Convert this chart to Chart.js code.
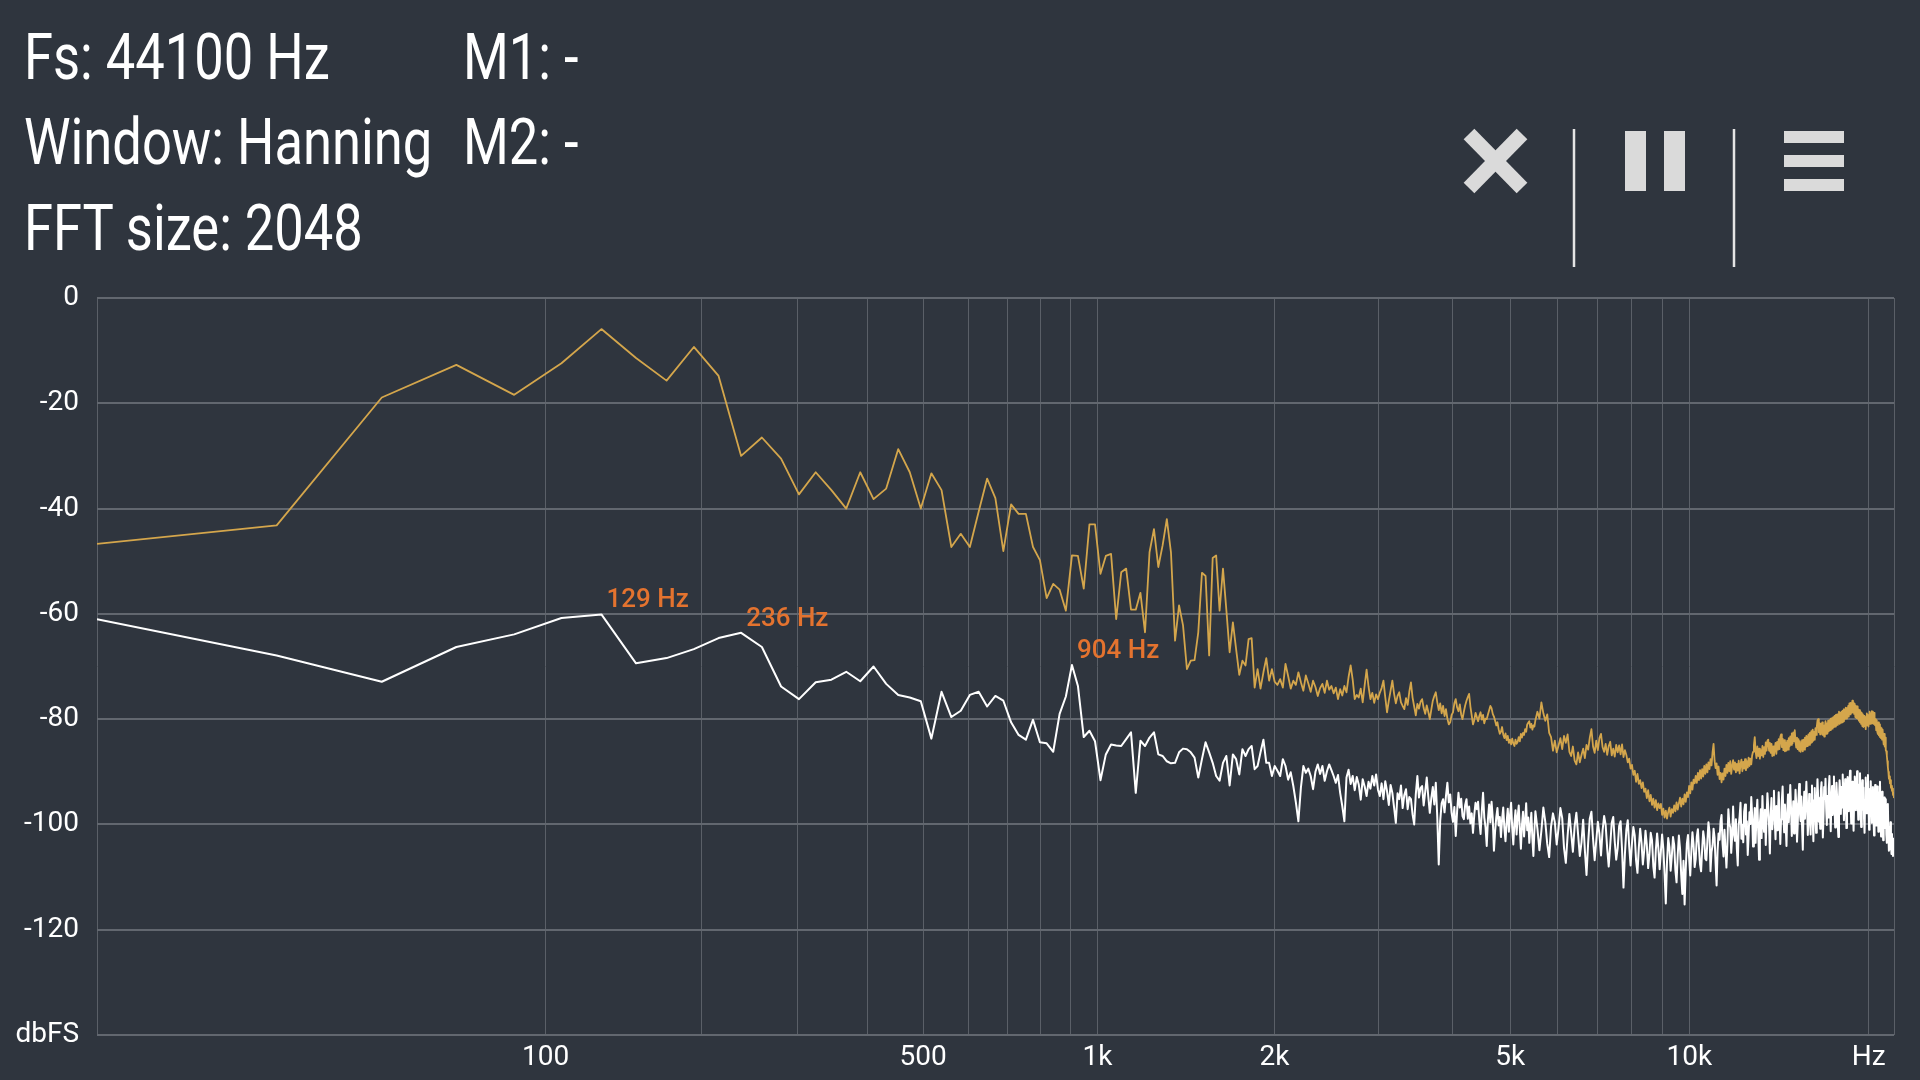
<!DOCTYPE html>
<html>
<head>
<meta charset="utf-8">
<title>Spectrum</title>
<script src="https://cdn.jsdelivr.net/npm/chart.js@4/dist/chart.umd.min.js"></script>
<style>
  html, body { margin: 0; padding: 0; background: #2f353e; overflow: hidden; }
  #wrap { position: relative; width: 1920px; height: 1080px; }
  #spectrum { position: absolute; left: 0; top: 0; }
  .hud { position: absolute; font: 64px/64px Roboto, sans-serif; color: #fff;
         white-space: nowrap; transform: scaleX(0.82); transform-origin: 0 0; }
  #icons { position: absolute; left: 0; top: 0; }
</style>
</head>
<body>
<div id="wrap">
  <canvas id="spectrum" width="1920" height="1080"></canvas>
  <div class="hud" style="left:24px;top:26px">Fs: 44100 Hz</div>
  <div class="hud" style="left:24px;top:111px">Window: Hanning</div>
  <div class="hud" style="left:24px;top:197px">FFT size: 2048</div>
  <div class="hud" style="left:463px;top:26px">M1: -</div>
  <div class="hud" style="left:463px;top:111px">M2: -</div>
  <svg id="icons" width="1920" height="290">
    <g stroke="#dadada" stroke-width="15">
      <line x1="1469" y1="134" x2="1522" y2="188"/>
      <line x1="1522" y1="134" x2="1469" y2="188"/>
    </g>
    <g stroke="#e4e4e4" stroke-width="2.5">
      <line x1="1574" y1="129" x2="1574" y2="267"/>
      <line x1="1734" y1="129" x2="1734" y2="267"/>
    </g>
    <g fill="#dadada">
      <rect x="1625" y="131" width="21" height="60"/>
      <rect x="1664" y="131" width="21" height="60"/>
      <rect x="1784" y="131" width="60" height="12"/>
      <rect x="1784" y="155" width="60" height="12"/>
      <rect x="1784" y="179" width="60" height="12"/>
    </g>
  </svg>
</div>
<script>
// FFT setup
const FS = 44100;
const FFT_SIZE = 2048;
const BIN_HZ = FS / FFT_SIZE;
const FINE_BINS = 256;   // bins 0..255 one by one
const COARSE_STEP = 2;   // then every 2nd bin up to 1024

// axis ticks
const xGridHz = [0, 100, 200, 300, 400, 500, 600, 700, 800, 900, 1000,
  2000, 3000, 4000, 5000, 6000, 7000, 8000, 9000, 10000, 20000, 22050];
const xLabelHz = [100, 500, 1000, 2000, 5000, 10000, 20000];
const xLabelText = ['100', '500', '1k', '2k', '5k', '10k', 'Hz'];
const yTicksDb = [0, -20, -40, -60, -80, -100, -120, -140];

// marked peaks on the live trace (bin numbers)
const markerBins = [6, 11, 42];

// peak hold trace (gold), bins 0..255
const peakHoldFine = [
  -46.7, -43.2, -18.9, -12.7, -18.4, -12.4, -5.9, -11.4, -15.7, -9.3,
  -14.8, -30.0, -26.5, -30.5, -37.3, -33.1, -36.5, -40.0, -33.1, -38.2,
  -36.2, -28.7, -33.1, -40.0, -33.3, -36.5, -47.3, -44.8, -47.3, -40.6,
  -34.3, -38.0, -48.1, -39.2, -41.0, -41.0, -47.3, -49.8, -57.0, -54.3,
  -55.4, -59.4, -48.9, -49.0, -55.2, -43.0, -43.0, -52.4, -49.0, -48.6,
  -61.0, -52.1, -51.4, -59.2, -59.2, -56.0, -63.5, -48.3, -43.9, -51.1,
  -47.0, -42.0, -48.3, -65.1, -58.4, -62.2, -70.5, -68.9, -68.8, -63.5,
  -52.2, -52.8, -67.9, -49.4, -48.9, -59.4, -51.4, -59.2, -67.3, -61.6,
  -66.7, -71.6, -68.9, -69.8, -64.8, -64.6, -74.0, -70.5, -74.2, -71.1,
  -68.4, -72.7, -70.5, -72.9, -73.5, -72.4, -74.0, -69.5, -71.8, -74.2,
  -72.7, -73.5, -71.1, -73.0, -74.6, -71.7, -73.2, -74.8, -72.7, -73.9,
  -75.6, -74.1, -73.3, -75.0, -72.7, -74.4, -73.7, -75.1, -74.0, -76.2,
  -74.3, -75.5, -73.7, -74.9, -72.0, -69.8, -72.5, -76.2, -75.4, -75.9,
  -74.2, -76.8, -73.6, -70.6, -73.8, -76.2, -75.0, -76.9, -75.3, -76.2,
  -75.0, -74.1, -72.7, -75.8, -78.7, -76.5, -74.6, -72.7, -75.2, -77.0,
  -75.6, -74.9, -76.8, -77.5, -78.1, -76.0, -77.3, -74.8, -73.0, -75.9,
  -77.6, -79.3, -77.1, -78.0, -76.7, -76.2, -77.9, -79.0, -77.4, -78.6,
  -80.0, -78.2, -76.5, -75.6, -74.9, -76.8, -78.3, -77.0, -78.9, -77.5,
  -79.4, -78.1, -79.9, -81.0, -80.6, -79.2, -78.7, -77.0, -76.2, -77.8,
  -78.5, -77.2, -79.1, -80.0, -78.6, -77.4, -76.5, -75.8, -75.2, -77.6,
  -79.3, -81.0, -80.2, -78.8, -79.6, -80.4, -79.4, -78.7, -80.1, -79.2,
  -80.8, -79.9, -80.0, -79.1, -78.3, -77.5, -77.9, -79.0, -79.5, -80.3,
  -81.2, -80.6, -81.9, -82.8, -82.4, -81.5, -82.9, -83.6, -82.7, -84.0,
  -83.2, -84.5, -83.9, -84.8, -83.7, -84.6, -85.1, -83.9, -84.7, -84.3,
  -83.4, -84.2, -82.8, -83.5, -82.6, -83.0, -81.9, -82.4, -81.0, -80.7,
  -80.4, -81.6, -80.9, -82.0, -81.2, -81.4
];
// peak hold, bins 256..1024 step 2
const peakHoldCoarse = [
  -80.2, -78.6, -79.9, -76.8, -78.9, -80.3, -79.1, -82.6, -83.4, -86.0,
  -84.1, -86.3, -85.0, -83.6, -85.7, -83.2, -84.5, -82.9, -86.2, -87.0,
  -85.2, -87.9, -88.6, -86.3, -88.2, -86.8, -85.6, -87.4, -84.9, -85.8,
  -83.5, -81.9, -85.2, -86.4, -84.1, -85.9, -83.6, -82.8, -85.3, -86.2,
  -84.7, -86.8, -85.1, -84.3, -86.9, -85.6, -87.1, -84.9, -86.3, -85.0,
  -86.7, -84.8, -87.2, -85.9, -86.8, -88.2, -87.5, -89.4, -88.7, -90.6,
  -89.8, -91.9, -90.4, -92.3, -91.6, -93.1, -92.0, -93.8, -93.2, -95.0,
  -93.5, -95.6, -94.4, -96.3, -95.1, -96.8, -95.4, -97.3, -96.0, -96.9,
  -96.1, -98.2, -97.0, -98.7, -97.4, -98.9, -97.6, -96.8, -98.5, -97.1,
  -97.8, -96.4, -97.5, -95.8, -97.2, -96.0, -94.9, -96.6, -95.1, -96.2,
  -94.3, -95.7, -93.9, -94.8, -92.7, -94.1, -92.0, -93.4, -91.5, -92.2,
  -90.8, -92.1, -90.2, -91.6, -89.7, -91.3, -89.5, -90.9, -88.9, -90.4,
  -88.6, -90.1, -88.2, -89.5, -87.6, -88.8, -86.3, -84.7, -87.9, -89.3,
  -88.4, -90.6, -89.0, -91.4, -90.2, -92.0, -90.3, -91.5, -89.4, -90.8,
  -88.7, -90.2, -88.3, -89.9, -88.0, -90.4, -88.9, -87.8, -89.6, -88.2,
  -90.1, -88.5, -89.8, -87.9, -90.3, -88.6, -87.7, -89.9, -88.1, -89.4,
  -87.6, -89.7, -88.0, -89.2, -87.3, -88.9, -87.5, -88.6, -86.9, -86.2,
  -85.0, -83.4, -86.1, -87.4, -85.2, -87.0, -85.6, -87.5, -85.9, -86.9,
  -85.1, -87.2, -85.3, -86.6, -84.4, -86.0, -84.1, -83.9, -86.0, -84.5,
  -86.4, -84.7, -87.0, -85.2, -86.9, -85.7, -84.5, -86.6, -84.3, -85.8,
  -83.8, -85.7, -83.4, -82.9, -85.3, -83.7, -85.9, -84.0, -86.1, -84.4,
  -86.0, -84.1, -85.8, -83.6, -85.2, -83.3, -84.9, -82.7, -84.6, -82.5,
  -84.2, -82.1, -84.3, -85.4, -83.5, -85.7, -83.8, -86.0, -84.2, -86.2,
  -85.4, -84.0, -86.1, -83.9, -85.8, -83.5, -85.3, -83.2, -85.1, -83.7,
  -82.9, -84.9, -82.6, -84.6, -82.3, -84.4, -82.0, -84.1, -82.4, -83.9,
  -81.7, -83.0, -81.4, -80.3, -80.0, -82.5, -80.7, -82.9, -80.9, -82.6,
  -80.6, -83.0, -81.2, -83.3, -81.5, -80.4, -82.8, -80.8, -82.7, -80.3,
  -82.3, -80.2, -82.1, -79.9, -81.9, -79.8, -81.8, -79.6, -81.5, -79.4,
  -81.4, -79.2, -81.2, -79.1, -81.1, -79.5, -78.6, -80.9, -78.8, -80.7,
  -78.6, -80.6, -78.4, -80.4, -78.1, -80.1, -78.9, -77.8, -79.9, -77.9,
  -79.6, -77.5, -79.5, -77.0, -79.1, -76.9, -78.8, -77.4, -76.5, -78.7,
  -76.8, -79.0, -77.1, -79.6, -77.5, -79.8, -77.6, -79.9, -78.2, -80.3,
  -78.3, -80.6, -78.6, -80.9, -78.8, -81.3, -79.1, -81.5, -79.4, -81.3,
  -79.6, -81.9, -79.7, -78.9, -81.2, -79.2, -81.4, -79.3, -78.6, -80.9,
  -78.9, -80.8, -78.5, -80.7, -78.6, -80.9, -78.8, -80.3, -81.2, -80.0,
  -82.1, -80.2, -82.4, -82.8, -80.6, -83.1, -81.0, -83.4, -81.5, -83.6,
  -81.7, -83.9, -82.0, -83.7, -84.8, -82.8, -85.2, -83.5, -85.9, -86.1,
  -86.9, -88.0, -89.1, -90.0, -91.3, -90.9, -92.2, -91.6, -93.0, -92.7,
  -93.6, -93.2, -94.4, -94.0, -95.0
];

// live trace (white), bins 0..255
const liveFine = [
  -61.0, -67.9, -72.9, -66.3, -63.9, -60.8, -60.1, -69.4, -68.4, -66.7,
  -64.6, -63.6, -66.3, -73.8, -76.2, -73.0, -72.5, -71.0, -72.8, -70.0,
  -73.3, -75.4, -75.9, -76.6, -83.7, -74.8, -79.6, -78.4, -75.4, -74.8,
  -77.6, -75.6, -76.5, -80.6, -83.0, -83.9, -80.1, -84.4, -84.6, -86.2,
  -79.0, -75.7, -69.7, -73.7, -83.4, -82.2, -84.2, -91.6, -86.7, -84.8,
  -85.0, -85.1, -83.8, -82.5, -94.0, -84.1, -85.1, -83.5, -82.5, -86.7,
  -87.0, -88.0, -88.4, -88.3, -86.3, -85.6, -85.7, -86.3, -87.3, -91.1,
  -87.6, -84.4, -86.3, -88.3, -90.8, -91.7, -88.3, -87.0, -92.6, -86.7,
  -87.6, -90.5, -85.7, -87.0, -85.7, -85.1, -89.5, -88.9, -86.3, -83.9,
  -88.3, -88.3, -90.8, -88.9, -89.8, -90.8, -87.6, -88.9, -91.5, -90.1,
  -92.7, -95.8, -99.4, -93.0, -88.9, -90.2, -89.4, -90.8, -93.3, -90.0,
  -88.6, -90.4, -88.9, -91.7, -89.9, -88.6, -89.7, -90.8, -92.1, -90.6,
  -94.0, -96.5, -99.4, -91.1, -89.6, -92.3, -90.8, -93.5, -91.0, -92.4,
  -95.3, -91.4, -92.8, -94.6, -91.9, -93.2, -90.8, -92.6, -90.5, -93.4,
  -94.6, -92.2, -95.2, -91.8, -93.7, -96.3, -92.5, -94.0, -96.8, -99.7,
  -94.1, -95.2, -92.6, -96.9, -94.4, -93.3, -97.1, -94.8, -95.2, -98.1,
  -100.0, -94.3, -90.8, -94.9, -93.1, -92.7, -96.4, -93.8, -91.1, -94.7,
  -97.8, -95.0, -92.9, -96.2, -92.1, -98.6, -107.6, -99.3, -96.0, -95.2,
  -97.7, -94.6, -92.1, -95.8, -94.3, -97.8, -99.5, -96.7, -102.2, -97.5,
  -94.0, -96.8, -95.1, -98.4, -99.0, -96.3, -95.2, -98.9, -96.6, -99.8,
  -97.9, -101.6, -98.2, -95.9, -97.1, -95.7, -99.3, -101.8, -97.4, -94.0,
  -98.7, -100.5, -104.1, -99.0, -96.2, -99.6, -95.7, -98.8, -105.0, -101.3,
  -98.6, -96.9, -100.2, -98.6, -102.4, -99.1, -96.8, -100.7, -103.2, -99.5,
  -97.0, -101.4, -98.3, -95.9, -100.6, -103.8, -99.7, -97.3, -101.9, -98.5,
  -96.4, -100.8, -104.6, -100.1, -97.6, -102.3, -99.2, -96.0, -101.1, -98.7,
  -103.5, -100.4, -97.8, -102.6, -106.0, -101.2
];
// live, bins 256..1024 step 2
const liveCoarse = [
  -97.5, -100.8, -104.9, -101.2, -96.8, -99.5, -103.7, -106.2, -100.4, -97.9,
  -99.6, -103.8, -100.7, -96.9, -98.8, -104.5, -107.3, -102.1, -98.0, -101.6,
  -105.2, -100.3, -97.8, -101.9, -106.0, -103.4, -99.1, -104.8, -109.6, -103.5,
  -98.9, -97.6, -102.7, -106.8, -103.1, -99.5, -101.8, -105.9, -101.2, -98.4,
  -100.1, -104.6, -108.0, -103.9, -99.7, -98.6, -103.2, -106.7, -104.5, -100.3,
  -99.4, -104.8, -112.0, -105.6, -101.0, -99.2, -104.1, -107.8, -103.6, -100.5,
  -102.1, -106.9, -109.2, -104.4, -100.8, -103.5, -107.6, -105.0, -101.2, -103.9,
  -108.3, -105.7, -101.6, -103.0, -107.9, -110.1, -104.8, -101.7, -104.6, -108.5,
  -105.2, -101.9, -104.7, -109.4, -115.0, -107.1, -102.6, -104.3, -108.8, -106.0,
  -102.4, -103.9, -108.7, -111.0, -105.8, -102.1, -104.6, -109.5, -113.2, -106.9,
  -115.2, -108.4, -103.6, -102.0, -106.3, -109.7, -105.1, -101.5, -103.8, -108.1,
  -106.6, -102.3, -100.9, -104.4, -107.6, -108.9, -104.7, -101.3, -102.8, -106.5,
  -106.8, -103.1, -99.6, -101.4, -108.9, -105.2, -104.0, -100.8, -102.5, -107.3,
  -111.6, -104.9, -101.7, -102.9, -99.4, -98.2, -103.6, -106.1, -101.0, -104.7,
  -108.2, -103.9, -97.1, -99.8, -100.6, -105.4, -102.3, -96.6, -101.8, -103.1,
  -99.0, -104.6, -107.8, -100.2, -98.5, -95.9, -102.7, -100.1, -103.4, -97.6,
  -96.2, -101.9, -99.4, -105.8, -102.1, -97.7, -99.9, -94.8, -98.3, -104.2,
  -100.5, -96.9, -103.5, -98.0, -95.3, -101.2, -106.7, -99.8, -97.1, -102.6,
  -94.6, -99.7, -101.4, -97.2, -103.9, -98.5, -94.1, -96.8, -100.3, -105.5,
  -98.1, -95.0, -100.9, -97.4, -93.6, -99.3, -102.8, -96.5, -101.1, -97.9,
  -93.9, -97.6, -103.7, -99.0, -95.4, -92.8, -98.6, -101.5, -96.2, -100.3,
  -104.1, -97.8, -94.3, -99.6, -96.7, -92.5, -97.0, -102.2, -99.1, -95.6,
  -101.7, -98.2, -93.4, -96.1, -103.3, -100.0, -95.2, -92.3, -97.8, -99.4,
  -94.7, -100.6, -104.8, -97.3, -93.8, -98.9, -95.5, -91.9, -96.4, -102.0,
  -99.3, -94.2, -97.6, -101.9, -96.0, -92.6, -98.8, -103.2, -95.4, -93.1,
  -97.9, -101.6, -95.2, -91.4, -94.9, -99.5, -96.3, -100.8, -93.5, -92.0,
  -96.7, -102.5, -98.4, -92.9, -95.1, -91.3, -97.0, -100.1, -94.6, -98.7,
  -93.2, -90.8, -96.5, -101.3, -95.8, -92.7, -98.2, -94.4, -90.9, -97.1,
  -100.6, -96.0, -92.1, -94.8, -99.9, -102.4, -95.3, -91.6, -93.7, -98.0,
  -92.9, -96.8, -90.5, -94.0, -99.2, -95.1, -91.4, -93.8, -100.7, -96.2,
  -91.0, -93.9, -97.5, -92.2, -89.8, -95.6, -99.8, -94.7, -91.9, -96.9,
  -101.2, -95.0, -90.9, -92.6, -97.3, -93.4, -89.9, -94.8, -99.1, -96.0,
  -92.4, -90.3, -95.9, -100.5, -94.1, -91.6, -97.2, -93.0, -98.8, -101.6,
  -95.4, -91.1, -93.6, -97.9, -92.3, -90.6, -96.1, -101.0, -97.4, -93.2,
  -91.8, -96.6, -99.7, -94.4, -92.9, -98.3, -102.1, -96.0, -92.5, -95.3,
  -100.2, -97.1, -92.8, -95.7, -101.4, -98.6, -93.9, -91.9, -97.5, -102.3,
  -96.4, -93.8, -99.1, -103.0, -97.6, -94.9, -100.7, -98.3, -95.2, -101.9,
  -103.5, -98.7, -96.1, -101.6, -105.0, -100.4, -104.7, -99.6, -102.9, -105.6,
  -101.8, -104.9, -106.0, -102.7, -105.2
];

function binOf(i) {
  return i < FINE_BINS ? i : FINE_BINS + (i - FINE_BINS) * COARSE_STEP;
}
function toPoints(values) {
  return values.map((db, i) => ({ x: binOf(i) * BIN_HZ, y: db }));
}
const peakHoldDb = peakHoldFine.concat(peakHoldCoarse);
const liveDb = liveFine.concat(liveCoarse);

// x axis: bin k drawn at log10(k + 1), like the analyzer app
class BinLogScale extends Chart.LinearScale {
  buildTicks() {
    this.start = this.min;
    this.end = this.max;
    return xGridHz.map(v => ({ value: v }));
  }
  configure() {
    super.configure();
    this._lo = Math.log10(this.min / BIN_HZ + 1);
    this._hi = Math.log10(this.max / BIN_HZ + 1);
  }
  getPixelForValue(v) {
    const t = (Math.log10(v / BIN_HZ + 1) - this._lo) / (this._hi - this._lo);
    return this.getPixelForDecimal(t);
  }
  getValueForPixel(p) {
    const d = this.getDecimalForPixel(p);
    return (Math.pow(10, this._lo + d * (this._hi - this._lo)) - 1) * BIN_HZ;
  }
}
BinLogScale.id = 'binlog';
BinLogScale.defaults = Chart.LinearScale.defaults;
Chart.register(BinLogScale);

const markerLabels = {
  id: 'markerLabels',
  afterDatasetsDraw(chart) {
    const { ctx, scales: { x, y } } = chart;
    ctx.save();
    ctx.font = '500 26px Roboto';
    ctx.fillStyle = '#e4732f';
    ctx.textAlign = 'left';
    ctx.textBaseline = 'alphabetic';
    markerBins.forEach(k => {
      const px = x.getPixelForValue(k * BIN_HZ);
      const py = y.getPixelForValue(liveDb[k]);
      ctx.fillText(Math.floor(k * BIN_HZ) + ' Hz', px + 5, py - 7);
    });
    ctx.restore();
  }
};

Chart.defaults.font.family = 'Roboto';

new Chart(document.getElementById('spectrum'), {
  type: 'line',
  data: {
    datasets: [
      {
        label: 'peak hold',
        data: toPoints(peakHoldDb),
        borderColor: '#d4a64c',
        borderWidth: 1.8,
        borderJoinStyle: 'round',
        pointRadius: 0,
        tension: 0
      },
      {
        label: 'live',
        data: toPoints(liveDb),
        borderColor: '#ffffff',
        borderWidth: 2,
        borderJoinStyle: 'round',
        pointRadius: 0,
        tension: 0
      }
    ]
  },
  options: {
    responsive: false,
    animation: false,
    devicePixelRatio: 1,
    layout: { padding: { top: 298, right: 26, left: 0, bottom: 0 } },
    plugins: { legend: { display: false }, tooltip: { enabled: false } },
    scales: {
      x: {
        type: 'binlog',
        min: 0,
        max: 1024 * BIN_HZ,
        border: { display: false },
        grid: { color: '#5a5f67', lineWidth: 1, drawTicks: false },
        ticks: {
          autoSkip: false,
          maxRotation: 0,
          padding: 6,
          color: '#ffffff',
          font: { size: 28 },
          callback: v => {
            const i = xLabelHz.indexOf(v);
            return i < 0 ? '' : xLabelText[i];
          }
        },
        afterFit: s => { s.height = 45; }
      },
      y: {
        min: -140,
        max: 0,
        border: { display: false },
        grid: { color: '#62676f', lineWidth: 2, drawTicks: false },
        afterBuildTicks: s => { s.ticks = yTicksDb.map(v => ({ value: v })); },
        ticks: {
          padding: 18,
          color: '#ffffff',
          font: { size: 28 },
          callback: v => (v === -140 ? 'dbFS' : String(v))
        },
        afterFit: s => { s.width = 97; }
      }
    }
  },
  plugins: [markerLabels]
});
</script>
</body>
</html>
